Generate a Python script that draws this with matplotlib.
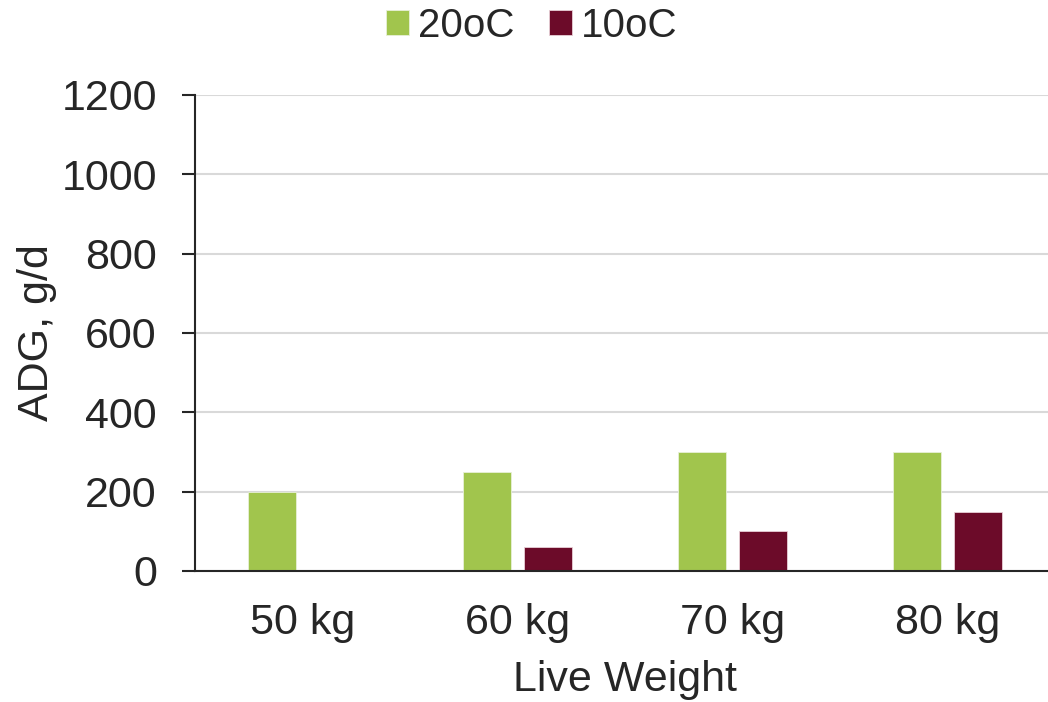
import numpy as np
import matplotlib
matplotlib.use('Agg')
import matplotlib.pyplot as plt

plt.rcParams.update({
    'font.family': ['Liberation Sans', 'DejaVu Sans'],
    'font.size': 31,
    'text.color': '#262626',
    'axes.labelcolor': '#262626',
    'xtick.color': '#262626',
    'ytick.color': '#262626',
})

categories = ['50 kg', '60 kg', '70 kg', '80 kg']
adg_20c = [200, 250, 300, 300]
adg_10c = [0, 60, 100, 150]
series_labels = ['20oC', '10oC']
yticks = [0, 200, 400, 600, 800, 1000, 1200]

green = '#A1C54D'
maroon = '#6C0B29'

fig = plt.figure(figsize=(10.48, 7.02), dpi=100)
ax = fig.add_axes([195 / 1048, 131 / 702, 860 / 1048, 476 / 702])

x = np.arange(len(categories))
w = 0.223
off = 0.143
ax.bar(x - off, adg_20c, width=w, color=green, edgecolor='#E8F0D8',
       linewidth=0.6, label=series_labels[0], zorder=3)
ax.bar(x + off, adg_10c, width=w, color=maroon, edgecolor='#E8D0D6',
       linewidth=0.6, label=series_labels[1], zorder=3)

ax.set_xlim(-0.5, len(categories) - 0.5)
ax.set_ylim(0, 1200)
ax.set_yticks(yticks)
ax.set_xticks(x)
ax.set_xticklabels(categories)
ax.yaxis.grid(True, color='#D9D9D9', linewidth=1.5, zorder=0)
ax.set_axisbelow(True)

for s in ['top', 'right']:
    ax.spines[s].set_visible(False)
for s in ['left', 'bottom']:
    ax.spines[s].set_color('#262626')
    ax.spines[s].set_linewidth(1.5)
    ax.spines[s].set_zorder(4)

ax.tick_params(axis='y', length=9.4, width=1.5, pad=18)
ax.tick_params(axis='x', length=0, pad=23)

ax.set_xlabel('Live Weight', labelpad=12)
ax.set_ylabel('ADG, g/d', labelpad=3)

fig.legend(loc='center', bbox_to_anchor=(532 / 1048, 1 - 26 / 702), ncol=2,
           frameon=False, fontsize=29, handlelength=0.575, handleheight=0.575,
           handletextpad=0.22, columnspacing=0.85, borderaxespad=0)

fig.savefig('out.png', dpi=100)
